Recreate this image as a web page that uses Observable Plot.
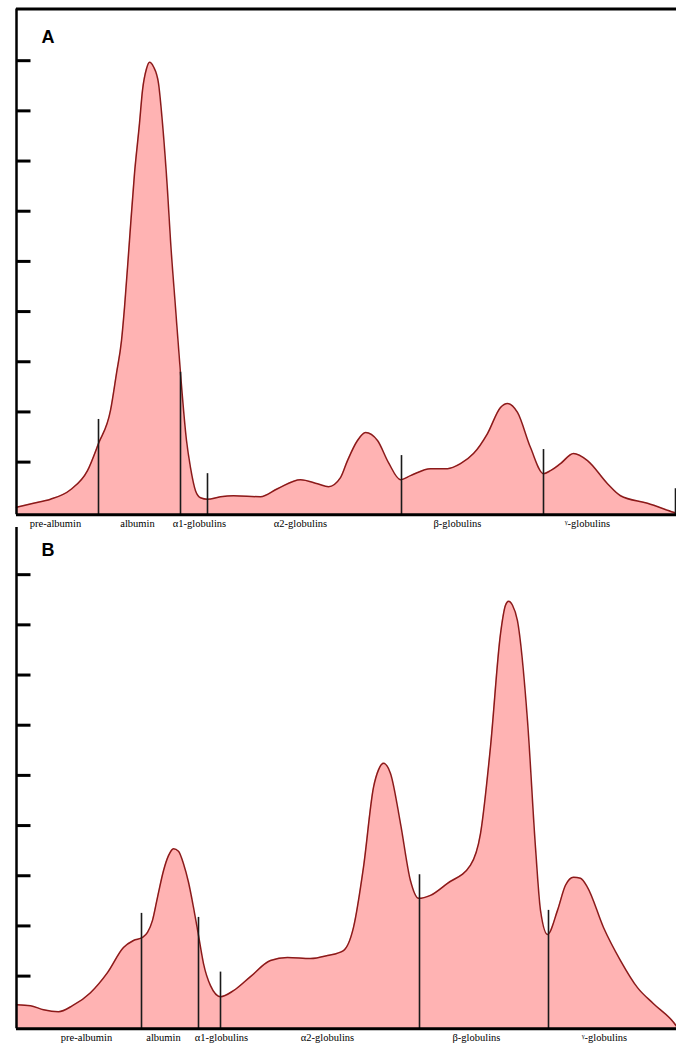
<!DOCTYPE html>
<html>
<head>
<meta charset="utf-8">
<script src="https://cdn.jsdelivr.net/npm/d3@7"></script>
<script src="https://cdn.jsdelivr.net/npm/@observablehq/plot@0.6"></script>
<style>
  html, body { margin: 0; padding: 0; background: #fff; }
  #chart svg { display: block; overflow: visible; }
</style>
</head>
<body>
<div id="chart"></div>
<script>
// Fraction names (x-axis category labels)
const fractions = ["pre-albumin", "albumin", "α1-globulins", "α2-globulins", "β-globulins", "ᵞ-globulins"];
// y-axis tick values (unlabelled)
const yTicks = [1, 2, 3, 4, 5, 6, 7, 8, 9];

// Panel A densitometry trace
const mobilityA = [0, 17, 34, 54, 71, 82, 94, 100, 105, 108, 113, 118, 123, 126, 130, 133, 137, 142, 146, 151, 154, 159, 164, 170, 174, 179, 184, 191, 204, 217, 244, 261, 284, 301, 312, 324, 331, 341, 349, 361, 372, 384, 394, 414, 431, 444, 457, 471, 484, 491, 501, 514, 527, 534, 544, 557, 571, 591, 604, 631, 657, 660];
const densityA  = [0.10, 0.18, 0.26, 0.45, 0.83, 1.37, 2.03, 2.77, 3.42, 4.08, 5.42, 6.75, 7.75, 8.41, 8.84, 8.97, 8.88, 8.55, 7.75, 6.41, 5.42, 4.08, 2.77, 1.43, 0.89, 0.43, 0.29, 0.26, 0.31, 0.33, 0.31, 0.47, 0.65, 0.57, 0.51, 0.69, 1.03, 1.43, 1.59, 1.43, 0.99, 0.65, 0.73, 0.87, 0.87, 0.97, 1.17, 1.57, 2.09, 2.17, 1.99, 1.29, 0.77, 0.83, 0.97, 1.17, 1.03, 0.57, 0.33, 0.18, 0.00, -0.02];
const labelPosA   = [39, 121, 183, 284, 441, 571];
const dividerPosA = [82, 164, 191, 385, 527, 659];
const dividerTopA = [1.85, 2.79, 0.77, 1.13, 1.25, 0.47];

// Panel B densitometry trace
const mobilityB = [0, 14, 27, 42, 56, 74, 91, 107, 117, 126, 131, 136, 141, 147, 152, 157, 162, 167, 172, 177, 182, 187, 194, 204, 217, 234, 254, 271, 294, 311, 327, 337, 347, 357, 362, 367, 374, 384, 394, 402, 414, 431, 454, 464, 474, 484, 489, 492, 496, 501, 511, 519, 524, 531, 541, 549, 557, 564, 571, 587, 604, 621, 637, 657, 660];
const densityB  = [0.43, 0.41, 0.33, 0.29, 0.41, 0.67, 1.07, 1.57, 1.71, 1.77, 1.87, 2.11, 2.57, 3.10, 3.40, 3.54, 3.49, 3.24, 2.87, 2.37, 1.81, 1.25, 0.81, 0.59, 0.71, 0.99, 1.31, 1.37, 1.35, 1.41, 1.51, 1.97, 3.17, 4.76, 5.11, 5.24, 5.04, 4.04, 2.90, 2.55, 2.61, 2.85, 3.21, 3.84, 5.57, 7.82, 8.39, 8.47, 8.39, 8.08, 6.09, 3.56, 2.31, 1.83, 2.31, 2.81, 2.97, 2.95, 2.77, 1.97, 1.31, 0.77, 0.45, 0.08, 0.00];
const labelPosB   = [70, 147, 205, 311, 460, 588];
const dividerPosB = [125, 182, 204, 403, 532];
const dividerTopB = [2.25, 2.17, 1.08, 3.02, 2.31];

const yMin = -0.05;

function panel({name, xs, ys, labelX, divX, divTop, yMax, height, marginTop, marginBottom, labelDy, letterDy, topBorder}) {
  const pts = xs.map((v, i) => ({x: v, y: ys[i]}));
  const labels = fractions.map((t, i) => ({t, x: labelX[i]}));
  const divs = divX.map((v, i) => ({x: v, top: divTop[i]}));
  return Plot.plot({
    width: 676,
    height,
    marginLeft: 16,
    marginRight: 0,
    marginTop,
    marginBottom,
    x: {domain: [0, 660], axis: null},
    y: {domain: [yMin, yMax], axis: null},
    style: {overflow: "visible", background: "white"},
    marks: [
      Plot.areaY(pts, {x: "x", y1: yMin, y2: "y", fill: "#ffb3b3", curve: "monotone-x"}),
      Plot.lineY(pts, {x: "x", y: "y", stroke: "#8b1a1a", strokeWidth: 1.5, curve: "monotone-x"}),
      Plot.ruleX(divs, {x: "x", y1: yMin, y2: "top", stroke: "#1a1a1a", strokeWidth: 1.6}),
      Plot.ruleY([yMin], {stroke: "#000", strokeWidth: 3}),
      Plot.ruleX([0], {stroke: "#000", strokeWidth: 2.5}),
      Plot.axisY(yTicks, {tickSize: -14.5, tickFormat: () => "", stroke: "#000", strokeWidth: 3, label: null}),
      topBorder ? Plot.ruleY([yMax], {stroke: "#000", strokeWidth: 3}) : null,
      Plot.text(labels, {x: "x", y: yMin, dy: labelDy, text: "t", fontFamily: "Liberation Serif, Times New Roman, serif", fontSize: 10.5, fill: "#000", lineAnchor: "middle"}),
      Plot.text([name], {text: d => d, frameAnchor: "top-left", dx: 25, dy: letterDy, fontFamily: "Liberation Sans, Arial, sans-serif", fontWeight: "bold", fontSize: 18, fill: "#000", textAnchor: "start", lineAnchor: "middle"})
    ]
  });
}

const chart = document.getElementById("chart");
chart.append(panel({
  name: "A", xs: mobilityA, ys: densityA, labelX: labelPosA, divX: dividerPosA, divTop: dividerTopA,
  yMax: 10.03, height: 526, marginTop: 8.5, marginBottom: 11.7, labelDy: 8.7, letterDy: 28, topBorder: true
}));
chart.append(panel({
  name: "B", xs: mobilityB, ys: densityB, labelX: labelPosB, divX: dividerPosB, divTop: dividerTopB,
  yMax: 9.94, height: 517, marginTop: 1, marginBottom: 14.7, labelDy: 9, letterDy: 23.2, topBorder: false
}));
</script>
</body>
</html>
